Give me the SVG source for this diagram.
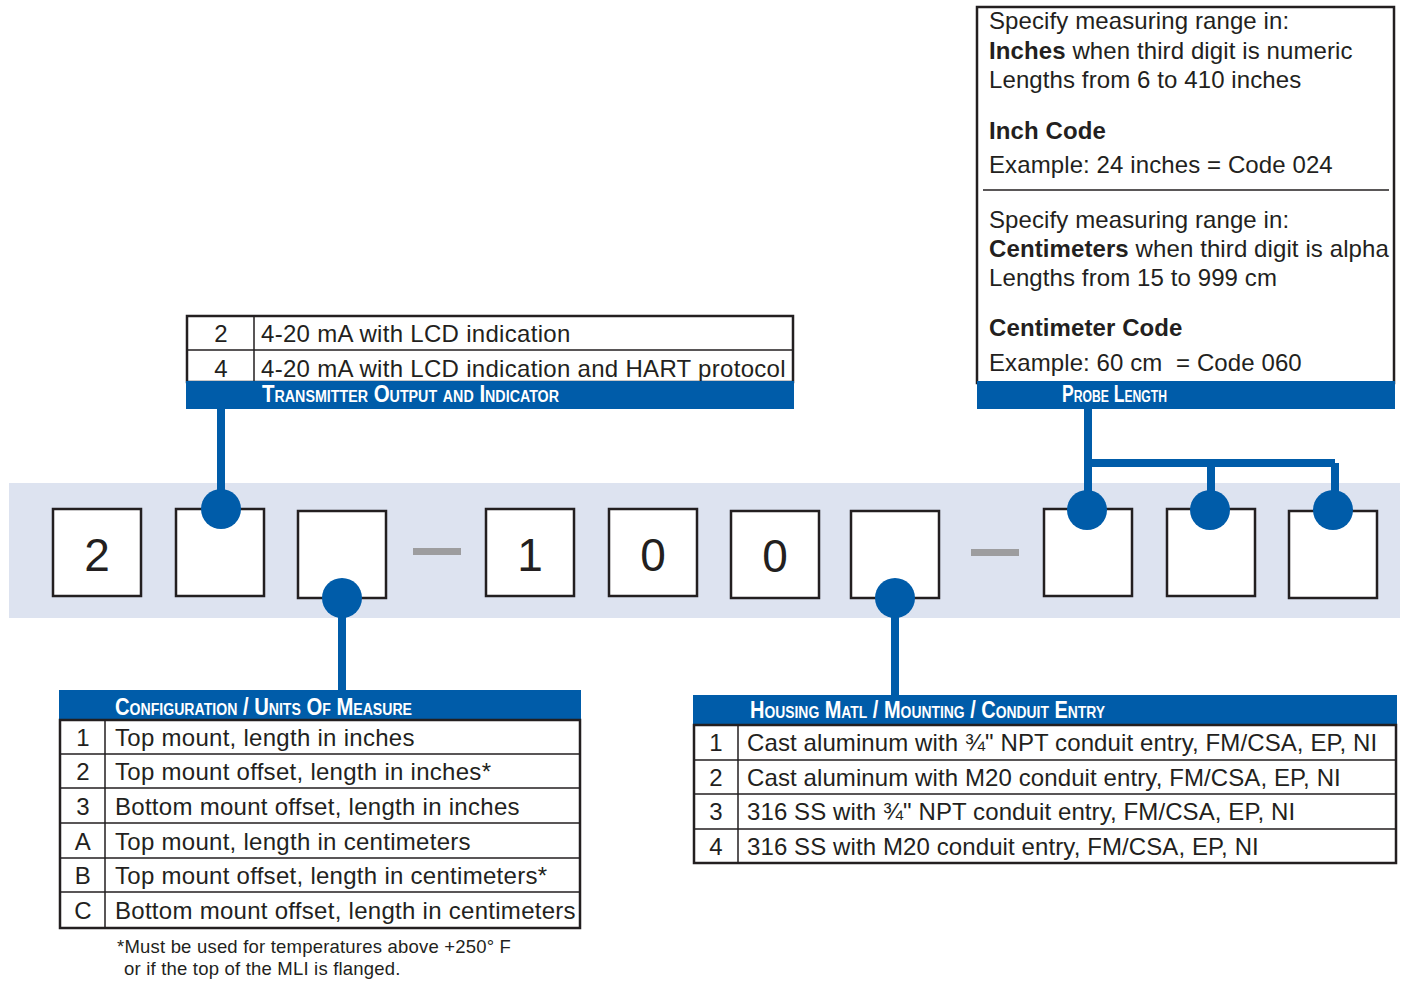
<svg xmlns="http://www.w3.org/2000/svg" width="1404" height="982" viewBox="0 0 1404 982">
<style>
.t{font-family:"Liberation Sans",Arial,sans-serif;font-size:24px;fill:#231f20}
.b{font-weight:bold}
.c{text-anchor:middle}
.big{font-family:"Liberation Sans",Arial,sans-serif;font-size:46px;fill:#231f20;text-anchor:middle}
.hd{font-family:"Liberation Sans",Arial,sans-serif;font-weight:bold;font-size:23px;font-variant:small-caps;fill:#ffffff}
.fn{font-family:"Liberation Sans",Arial,sans-serif;font-size:18.5px;fill:#231f20;letter-spacing:0.2px}
.box{fill:#ffffff;stroke:#231f20;stroke-width:2.5}
.tbl{fill:#ffffff;stroke:#231f20;stroke-width:2.5}
.ln{stroke:#231f20;stroke-width:1.5;fill:none}
.bar{fill:#005ca9}
.dash{fill:#9d9d9f}
.con{stroke:#005ca9;stroke-width:8;fill:none}
.dot{fill:#005ca9}
#transmitter .t{letter-spacing:0.3px}
#configuration .t{letter-spacing:0.28px}
#probe-length .t{letter-spacing:0.1px}
#housing .t{letter-spacing:0.1px}
</style>
<rect x="9" y="483" width="1391" height="135" fill="#dde3f0"/>
<g id="code-boxes">
<g id="d1"><rect class="box" x="53" y="509" width="88" height="87"/><text class="big" x="97" y="571">2</text></g>
<g id="d2"><rect class="box" x="176" y="509" width="88" height="87"/></g>
<g id="d3"><rect class="box" x="298" y="511" width="88" height="87"/></g>
<g id="dash1"><rect class="dash" x="413" y="548" width="48" height="7"/></g>
<g id="d4"><rect class="box" x="486" y="509" width="88" height="87"/><text class="big" x="530" y="571">1</text></g>
<g id="d5"><rect class="box" x="609" y="509" width="88" height="87"/><text class="big" x="653" y="571">0</text></g>
<g id="d6"><rect class="box" x="731" y="511" width="88" height="87"/><text class="big" x="775" y="572">0</text></g>
<g id="d7"><rect class="box" x="851" y="511" width="88" height="87"/></g>
<g id="dash2"><rect class="dash" x="971" y="549" width="48" height="7"/></g>
<g id="d8"><rect class="box" x="1044" y="509" width="88" height="87"/></g>
<g id="d9"><rect class="box" x="1167" y="509" width="88" height="87"/></g>
<g id="d10"><rect class="box" x="1289" y="511" width="88" height="87"/></g>
</g>
<g id="connectors">
<path class="con" d="M221 408 V509"/>
<path class="con" d="M342 598 V692"/>
<path class="con" d="M895 598 V696"/>
<path class="con" d="M1088 408 V510 M1088 463 H1335 M1211 463 V510 M1335 463 V510"/>
<circle class="dot" cx="221" cy="509" r="20"/>
<circle class="dot" cx="342" cy="598" r="20"/>
<circle class="dot" cx="895" cy="598" r="20"/>
<circle class="dot" cx="1087" cy="510" r="20"/>
<circle class="dot" cx="1210" cy="510" r="20"/>
<circle class="dot" cx="1333" cy="510" r="20"/>
</g>
<g id="transmitter">
<rect class="tbl" x="187" y="316" width="606" height="66"/>
<path class="ln" d="M187 350 H793 M254 316 V382"/>
<text class="t c" x="221" y="342">2</text>
<text class="t" x="261" y="342">4-20 mA with LCD indication</text>
<text class="t c" x="221" y="377">4</text>
<text class="t" x="261" y="377">4-20 mA with LCD indication and HART protocol</text>
<rect class="bar" x="186" y="381" width="608" height="28"/>
<text class="hd" x="262" y="402" textLength="297" lengthAdjust="spacingAndGlyphs">Transmitter Output and Indicator</text>
</g>
<g id="probe-length">
<rect class="tbl" x="977" y="7" width="417" height="376"/>
<path class="ln" d="M983 190 H1389"/>
<text class="t" x="989" y="29">Specify measuring range in:</text>
<text class="t" x="989" y="59"><tspan class="b">Inches</tspan> when third digit is numeric</text>
<text class="t" x="989" y="88">Lengths from 6 to 410 inches</text>
<text class="t b" x="989" y="139">Inch Code</text>
<text class="t" x="989" y="173">Example: 24 inches = Code 024</text>
<text class="t" x="989" y="228">Specify measuring range in:</text>
<text class="t" x="989" y="257"><tspan class="b">Centimeters</tspan> when third digit is alpha</text>
<text class="t" x="989" y="286">Lengths from 15 to 999 cm</text>
<text class="t b" x="989" y="336">Centimeter Code</text>
<text class="t" x="989" y="371" xml:space="preserve">Example: 60 cm  = Code 060</text>
<rect class="bar" x="977" y="381" width="418" height="28"/>
<text class="hd" x="1062" y="402" textLength="105" lengthAdjust="spacingAndGlyphs">Probe Length</text>
</g>
<g id="configuration">
<rect class="bar" x="59" y="690" width="522" height="31"/>
<text class="hd" x="115" y="715" textLength="297" lengthAdjust="spacingAndGlyphs">Configuration / Units Of Measure</text>
<rect class="tbl" x="60" y="720" width="520" height="208"/>
<path class="ln" d="M60 754 H580 M60 788 H580 M60 823 H580 M60 858 H580 M60 892 H580 M105 720 V928"/>
<text class="t c" x="83" y="746">1</text><text class="t" x="115" y="746">Top mount, length in inches</text>
<text class="t c" x="83" y="780">2</text><text class="t" x="115" y="780">Top mount offset, length in inches*</text>
<text class="t c" x="83" y="815">3</text><text class="t" x="115" y="815">Bottom mount offset, length in inches</text>
<text class="t c" x="83" y="850">A</text><text class="t" x="115" y="850">Top mount, length in centimeters</text>
<text class="t c" x="83" y="884">B</text><text class="t" x="115" y="884">Top mount offset, length in centimeters*</text>
<text class="t c" x="83" y="919">C</text><text class="t" x="115" y="919">Bottom mount offset, length in centimeters</text>
<text class="fn" x="117" y="953">*Must be used for temperatures above +250° F</text>
<text class="fn" x="124" y="975">or if the top of the MLI is flanged.</text>
</g>
<g id="housing">
<rect class="bar" x="693" y="695" width="704" height="31"/>
<text class="hd" x="750" y="718" textLength="355" lengthAdjust="spacingAndGlyphs">Housing Matl / Mounting / Conduit Entry</text>
<rect class="tbl" x="694" y="725" width="702" height="138"/>
<path class="ln" d="M694 760 H1396 M694 794 H1396 M694 829 H1396 M738 725 V863"/>
<text class="t c" x="716" y="751">1</text><text class="t" x="747" y="751">Cast aluminum with ¾" NPT conduit entry, FM/CSA, EP, NI</text>
<text class="t c" x="716" y="786">2</text><text class="t" x="747" y="786">Cast aluminum with M20 conduit entry, FM/CSA, EP, NI</text>
<text class="t c" x="716" y="820">3</text><text class="t" x="747" y="820">316 SS with ¾" NPT conduit entry, FM/CSA, EP, NI</text>
<text class="t c" x="716" y="855">4</text><text class="t" x="747" y="855">316 SS with M20 conduit entry, FM/CSA, EP, NI</text>
</g>
</svg>
